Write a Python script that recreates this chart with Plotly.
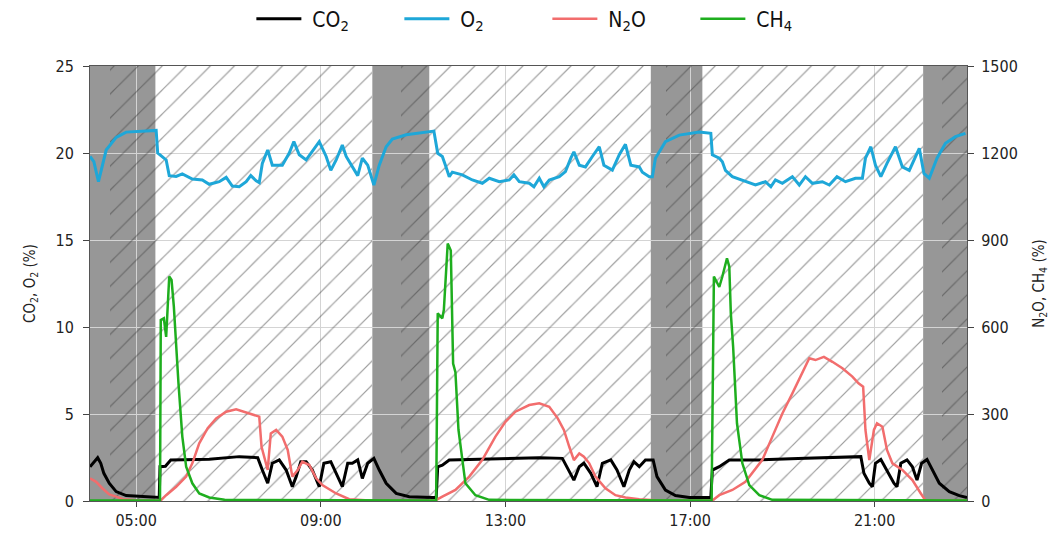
import pandas as pd
import plotly.graph_objects as go

DAY = "2021-06-01 "

# ---------------- data ----------------
co2_time = ["04:00", "04:10", "04:14", "04:18", "04:25", "04:34", "04:47", "05:04", "05:26", "05:30",
            "05:31", "05:38", "05:45", "06:09", "06:35", "07:14", "07:38", "07:44", "07:51", "07:57",
            "08:06", "08:15", "08:23", "08:28", "08:34", "08:41", "08:49", "08:58", "09:04", "09:13",
            "09:20", "09:28", "09:35", "09:41", "09:48", "09:54", "10:01", "10:09", "10:16", "10:25",
            "10:38", "10:55", "11:25", "11:30", "11:32", "11:38", "11:47", "12:39", "13:44", "14:14",
            "14:20", "14:29", "14:36", "14:42", "14:51", "14:59", "15:06", "15:17", "15:25", "15:34",
            "15:41", "15:47", "15:54", "16:02", "16:12", "16:17", "16:28", "16:41", "16:59", "17:27",
            "17:29", "17:38", "17:51", "18:30", "19:30", "20:42", "20:46", "20:53", "20:57", "21:01",
            "21:08", "21:16", "21:25", "21:29", "21:34", "21:42", "21:49", "21:55", "22:01", "22:08",
            "22:15", "22:24", "22:37", "22:50", "23:00"]
co2_val = [1.97, 2.49, 2.17, 1.59, 1.02, 0.54, 0.31, 0.25, 0.2, 0.2,
           1.97, 2.0, 2.36, 2.36, 2.4, 2.55, 2.49, 1.78, 1.02, 2.17,
           2.36, 1.78, 0.82, 1.4, 2.26, 2.26, 1.78, 0.82, 2.17, 2.26,
           1.59, 0.82, 2.17, 2.17, 2.36, 1.3, 2.17, 2.45, 1.78, 1.02,
           0.44, 0.25, 0.2, 0.2, 1.97, 2.06, 2.36, 2.4, 2.49, 2.45,
           1.97, 1.2, 1.97, 2.17, 1.59, 0.82, 2.17, 2.36, 1.78, 0.82,
           1.78, 2.26, 1.97, 2.36, 2.36, 1.4, 0.63, 0.31, 0.2, 0.2,
           1.78, 1.97, 2.36, 2.36, 2.45, 2.55, 1.59, 1.02, 0.82, 2.17,
           2.39, 1.78, 1.02, 0.82, 2.17, 2.36, 1.97, 1.2, 2.17, 2.39,
           1.78, 1.02, 0.54, 0.31, 0.2]

o2_time = ["04:00", "04:05", "04:11", "04:16", "04:21", "04:34", "04:47", "05:26", "05:28", "05:39",
           "05:43", "05:52", "06:00", "06:13", "06:26", "06:35", "06:48", "06:57", "07:05", "07:14",
           "07:23", "07:29", "07:36", "07:40", "07:44", "07:51", "07:57", "08:10", "08:19", "08:25",
           "08:32", "08:41", "08:49", "08:58", "09:07", "09:13", "09:20", "09:28", "09:33", "09:41",
           "09:48", "09:54", "10:01", "10:09", "10:16", "10:25", "10:33", "10:51", "11:27", "11:32",
           "11:38", "11:42", "11:47", "11:51", "12:04", "12:17", "12:30", "12:39", "12:52", "13:05",
           "13:11", "13:18", "13:31", "13:37", "13:44", "13:50", "13:57", "14:10", "14:18", "14:25",
           "14:29", "14:36", "14:44", "14:53", "15:02", "15:08", "15:19", "15:28", "15:36", "15:43",
           "15:54", "15:58", "16:07", "16:11", "16:15", "16:28", "16:46", "17:12", "17:27", "17:29",
           "17:38", "17:42", "17:46", "17:55", "18:08", "18:25", "18:38", "18:45", "18:51", "19:00",
           "19:13", "19:22", "19:30", "19:39", "19:52", "20:01", "20:11", "20:22", "20:35", "20:44",
           "20:48", "20:55", "21:01", "21:08", "21:16", "21:27", "21:36", "21:45", "21:58", "22:04",
           "22:11", "22:21", "22:32", "22:45", "22:58"]
o2_val = [19.8, 19.5, 18.35, 19.2, 20.17, 20.9, 21.2, 21.3, 20.0, 19.6,
          18.7, 18.65, 18.8, 18.5, 18.45, 18.2, 18.35, 18.6, 18.1, 18.06,
          18.35, 18.7, 18.4, 18.3, 19.4, 20.17, 19.3, 19.3, 20.0, 20.65,
          19.9, 19.6, 20.1, 20.65, 19.8, 19.0, 19.6, 20.46, 19.8, 19.2,
          18.7, 19.7, 19.3, 18.16, 19.3, 20.36, 20.8, 21.05, 21.26, 19.98,
          19.8, 19.3, 18.64, 18.9, 18.74, 18.45, 18.26, 18.55, 18.35, 18.45,
          18.74, 18.35, 18.26, 18.06, 18.55, 18.06, 18.45, 18.64, 18.93, 19.7,
          20.07, 19.3, 19.2, 19.8, 20.36, 19.3, 19.02, 19.9, 20.5, 19.3,
          19.2, 18.9, 18.64, 18.64, 19.7, 20.65, 21.03, 21.2, 21.13, 19.9,
          19.7, 19.5, 19.0, 18.64, 18.45, 18.16, 18.35, 18.06, 18.45, 18.26,
          18.64, 18.16, 18.64, 18.26, 18.35, 18.16, 18.64, 18.35, 18.55, 18.55,
          19.7, 20.36, 19.3, 18.64, 19.4, 20.36, 19.2, 19.0, 20.27, 18.83,
          18.55, 19.7, 20.56, 20.94, 21.13]

n2o_time = ["04:00", "04:08", "04:16", "04:25", "04:34", "04:43", "05:04", "05:32", "05:39", "05:52",
            "06:05", "06:13", "06:22", "06:33", "06:44", "06:57", "07:10", "07:20", "07:31", "07:40",
            "07:43", "07:51", "07:55", "08:02", "08:10", "08:17", "08:23", "08:30", "08:36", "08:45",
            "08:54", "09:02", "09:20", "09:37", "10:03", "11:29", "11:38", "11:55", "12:13", "12:30",
            "12:47", "13:00", "13:13", "13:31", "13:44", "13:57", "14:08", "14:16", "14:23", "14:29",
            "14:36", "14:42", "14:49", "14:57", "15:10", "15:23", "15:36", "15:54", "16:20", "17:29",
            "17:38", "17:55", "18:12", "18:21", "18:34", "18:47", "19:00", "19:13", "19:24", "19:35",
            "19:43", "19:54", "20:05", "20:18", "20:31", "20:39", "20:45", "20:48", "20:53", "20:59",
            "21:03", "21:10", "21:16", "21:23", "21:36", "21:49", "22:00", "22:06", "23:00"]
n2o_val = [78, 66, 44, 23, 15, 6, 2, 2, 20, 49,
           84, 130, 199, 251, 285, 308, 316, 308, 297, 291,
           187, 107, 233, 245, 222, 176, 84, 107, 136, 124,
           78, 55, 26, 6, 2, 2, 15, 38, 84, 142,
           222, 273, 308, 331, 337, 325, 285, 245, 187, 141,
           164, 153, 130, 84, 44, 20, 12, 6, 2, 2,
           20, 38, 66, 96, 142, 222, 302, 371, 434, 492,
           486, 497, 480, 458, 429, 406, 394, 245, 141, 245,
           268, 256, 176, 130, 107, 72, 26, 2, 2]

ch4_time = ["04:00", "05:31", "05:32", "05:36", "05:39", "05:43", "05:46", "05:49", "05:55", "06:00",
            "06:05", "06:13", "06:22", "06:35", "06:55", "11:30", "11:32", "11:38", "11:40", "11:45",
            "11:49", "11:52", "11:55", "11:59", "12:08", "12:21", "12:39", "17:28", "17:31", "17:38",
            "17:42", "17:48", "17:51", "17:53", "17:56", "18:01", "18:08", "18:17", "18:30", "18:47",
            "23:00"]
ch4_val = [2, 2, 624, 630, 566, 774, 762, 670, 406, 222,
           118, 61, 26, 12, 4, 2, 647, 630, 660, 888,
           864, 474, 444, 245, 61, 20, 4, 2, 774, 738,
           774, 837, 808, 647, 532, 268, 130, 55, 20, 4,
           2]

# aeration-off (solid grey) and hatched periods
grey_start = ["04:00", "10:07", "16:09", "22:03"]
grey_end = ["05:25", "11:21", "17:16", "23:00"]
hatch_start = ["04:26", "10:44", "16:29", "22:28"]
hatch_end = ["10:07", "16:09", "22:03", "23:00"]

x_ticks = ["05:00", "09:00", "13:00", "17:00", "21:00"]
series_names = ["CO<sub>2</sub>", "O<sub>2</sub>", "N<sub>2</sub>O", "CH<sub>4</sub>"]


def ts(lst):
    return pd.to_datetime([DAY + t for t in lst])


FONT = "DejaVu Sans Condensed, DejaVu Sans, sans-serif"
PAD = "&nbsp;"

fig = go.Figure()

# hatched periods as patterned bars
hs, he = ts(hatch_start), ts(hatch_end)
centers = hs + (he - hs) / 2
widths = [(b - a).total_seconds() * 1000 for a, b in zip(hs, he)]
fig.add_trace(go.Bar(
    x=centers, y=[25] * len(centers), base=0, width=widths,
    marker=dict(color="rgba(0,0,0,0)", line=dict(width=0),
                pattern=dict(shape="/", fgcolor="#3c3c3c", bgcolor="rgba(0,0,0,0)",
                             size=17, solidity=0.07, fillmode="overlay")),
    showlegend=False, hoverinfo="skip", yaxis="y"))

fig.add_trace(go.Scatter(x=ts(co2_time), y=co2_val, mode="lines", name=PAD + series_names[0],
                         line=dict(color="#000000", width=3), yaxis="y"))
fig.add_trace(go.Scatter(x=ts(o2_time), y=o2_val, mode="lines", name=PAD + series_names[1],
                         line=dict(color="#1ea7d8", width=3), yaxis="y"))
fig.add_trace(go.Scatter(x=ts(n2o_time), y=n2o_val, mode="lines", name=PAD + series_names[2],
                         line=dict(color="#f26d6d", width=2.5), yaxis="y2"))
fig.add_trace(go.Scatter(x=ts(ch4_time), y=ch4_val, mode="lines", name=PAD + series_names[3],
                         line=dict(color="#1eae1e", width=2.5), yaxis="y2"))

for a, b in zip(ts(grey_start), ts(grey_end)):
    fig.add_shape(type="rect", xref="x", yref="paper", x0=a, x1=b, y0=0, y1=1,
                  fillcolor="#979797", line=dict(width=0), layer="below")

# page body adds an 8px offset; figure size/margins compensate for it
fig.update_layout(
    width=1051, height=526,
    margin=dict(l=82, r=92, t=58, b=33, autoexpand=False),
    paper_bgcolor="white", plot_bgcolor="white",
    font=dict(family=FONT, size=16, color="#222222"),
    showlegend=True,
    legend=dict(orientation="h", x=0.184, xanchor="left", y=1.108, yanchor="middle",
                font=dict(size=21, color="#111111"), itemwidth=45,
                entrywidth=88, entrywidthmode="pixels", bgcolor="rgba(0,0,0,0)"),
    bargap=0,
    xaxis=dict(type="date", range=[DAY + "04:00", DAY + "23:00"],
               tickvals=ts(x_ticks), tickformat="%H:%M", automargin=False,
               showgrid=True, gridcolor="#d4d4d4", gridwidth=1,
               ticks="outside", ticklen=5, tickcolor="#444444",
               showline=True, linecolor="#555555", mirror=True, zeroline=False),
    yaxis=dict(range=[0, 25], tickvals=[0, 5, 10, 15, 20, 25], automargin=False,
               showgrid=True, gridcolor="#d4d4d4", gridwidth=1,
               ticks="outside", ticklen=6, tickcolor="#444444", ticklabelstandoff=6,
               showline=True, linecolor="#555555", zeroline=False,
               title=dict(text="CO<sub>2</sub>, O<sub>2</sub> (%)", font=dict(size=15), standoff=16)),
    yaxis2=dict(range=[0, 1500], tickvals=[0, 300, 600, 900, 1200, 1500], automargin=False,
                overlaying="y", side="right", showgrid=False,
                ticks="outside", ticklen=6, tickcolor="#444444", ticklabelstandoff=4,
                showline=True, linecolor="#555555", zeroline=False,
                title=dict(text="N<sub>2</sub>O, CH<sub>4</sub> (%)", font=dict(size=15), standoff=16)),
)

fig.write_html("out.html")
